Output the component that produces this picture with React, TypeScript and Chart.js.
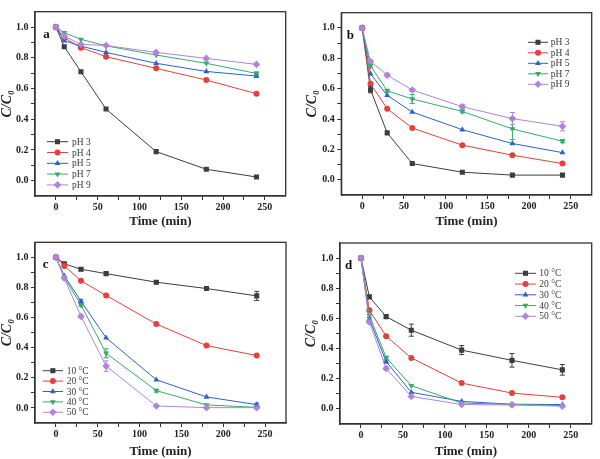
import React, { useEffect, useRef } from 'react';
import { Chart, registerables } from 'chart.js';
import { drawPoint } from 'chart.js/helpers';
Chart.register(...registerables);

// ---- data ----
const times = [0, 10, 30, 60, 120, 180, 240];
const xMajorTicks = [0, 50, 100, 150, 200, 250];
const yMajorTicks = [0, 0.2, 0.4, 0.6, 0.8, 1.0];
const phLabels = ['pH 3', 'pH 4', 'pH 5', 'pH 7', 'pH 9'];
const tempLabels = ['10 °C', '20 °C', '30 °C', '40 °C', '50 °C'];
const panelLetters = ['a', 'b', 'c', 'd'];

// panel a (pH)
const aPH3 = [1.0, 0.872, 0.709, 0.466, 0.189, 0.074, 0.024];
const aPH4 = [1.0, 0.93, 0.866, 0.807, 0.731, 0.655, 0.566];
const aPH5 = [1.0, 0.911, 0.876, 0.835, 0.764, 0.711, 0.681];
const aPH7 = [1.0, 0.963, 0.92, 0.878, 0.818, 0.764, 0.698];
const aPH9 = [1.0, 0.94, 0.887, 0.88, 0.835, 0.796, 0.757];
const aErrPH3 = [0, 0, 0, 0, 0, 0, 0];
const aErrPH4 = [0, 0, 0, 0, 0, 0, 0];
const aErrPH5 = [0, 0, 0, 0, 0, 0, 0.008];
const aErrPH7 = [0, 0, 0, 0, 0, 0, 0.01];
const aErrPH9 = [0, 0, 0, 0, 0, 0, 0];

// panel b (pH)
const bPH3 = [1.0, 0.593, 0.309, 0.107, 0.05, 0.031, 0.031];
const bPH4 = [1.0, 0.632, 0.468, 0.341, 0.228, 0.162, 0.107];
const bPH5 = [1.0, 0.698, 0.556, 0.446, 0.33, 0.239, 0.179];
const bPH7 = [1.0, 0.75, 0.586, 0.532, 0.45, 0.335, 0.254];
const bPH9 = [1.0, 0.779, 0.689, 0.591, 0.481, 0.403, 0.352];
const bErrPH3 = [0, 0.02, 0, 0, 0, 0, 0];
const bErrPH4 = [0, 0.01, 0, 0, 0, 0, 0];
const bErrPH5 = [0, 0, 0, 0, 0, 0, 0];
const bErrPH7 = [0, 0.01, 0.01, 0.03, 0.01, 0.07, 0.01];
const bErrPH9 = [0, 0.01, 0.01, 0.01, 0.015, 0.04, 0.03];

// panel c (temperature)
const c10 = [1.0, 0.958, 0.921, 0.892, 0.835, 0.793, 0.744];
const c20 = [1.0, 0.943, 0.844, 0.747, 0.557, 0.414, 0.348];
const c30 = [1.0, 0.877, 0.709, 0.465, 0.187, 0.073, 0.022];
const c40 = [1.0, 0.866, 0.683, 0.363, 0.115, 0.02, 0.004];
const c50 = [1.0, 0.861, 0.608, 0.278, 0.013, 0.002, 0.002];
const cErr10 = [0, 0, 0.01, 0.01, 0.01, 0.01, 0.03];
const cErr20 = [0, 0, 0, 0, 0, 0, 0];
const cErr30 = [0, 0, 0.01, 0, 0, 0, 0.01];
const cErr40 = [0, 0, 0.01, 0.03, 0.01, 0, 0];
const cErr50 = [0, 0, 0.01, 0.035, 0, 0, 0.01];

// panel d (temperature)
const d10 = [1.0, 0.743, 0.612, 0.522, 0.39, 0.322, 0.259];
const d20 = [1.0, 0.654, 0.482, 0.338, 0.171, 0.105, 0.077];
const d30 = [1.0, 0.596, 0.314, 0.11, 0.05, 0.031, 0.029];
const d40 = [1.0, 0.618, 0.34, 0.154, 0.039, 0.029, 0.022];
const d50 = [1.0, 0.577, 0.268, 0.083, 0.029, 0.026, 0.018];
const dErr10 = [0, 0.01, 0.01, 0.04, 0.03, 0.045, 0.035];
const dErr20 = [0, 0.01, 0, 0, 0, 0, 0];
const dErr30 = [0, 0.01, 0.01, 0, 0, 0, 0];
const dErr40 = [0, 0.01, 0.01, 0, 0, 0, 0];
const dErr50 = [0, 0.01, 0.01, 0, 0, 0, 0];

// ---- styles ----
const SERIF = "'Liberation Serif', 'Times New Roman', serif";
const AXIS = '#333333';
const seriesStyles = [
  { color: '#3d3d3d', pointStyle: 'rect', rotation: 0, radius: 3.6 },
  { color: '#e5403c', pointStyle: 'circle', rotation: 0, radius: 3 },
  { color: '#2d61c6', pointStyle: 'triangle', rotation: 0, radius: 3.4 },
  { color: '#36aa6b', pointStyle: 'triangle', rotation: 180, radius: 3.4 },
  { color: '#b283dd', pointStyle: 'rectRot', rotation: 0, radius: 3.8 },
];

type Series = { label: string; values: number[]; errors: number[] };
type PanelCfg = {
  letter: string;
  series: Series[];
  x: number; y: number; w: number; h: number;
  left: number; top: number; right: number; xH: number;
  yTitlePad: number;
  letterPos: [number, number];
  legend: { x1: number; x2: number; tx: number; y0: number; dy: number };
};

const mk = (labels: string[], vals: number[][], errs: number[][]): Series[] =>
  labels.map((label, i) => ({ label, values: vals[i], errors: errs[i] }));

const panels: PanelCfg[] = [
  {
    letter: panelLetters[0],
    series: mk(phLabels, [aPH3, aPH4, aPH5, aPH7, aPH9], [aErrPH3, aErrPH4, aErrPH5, aErrPH7, aErrPH9]),
    x: 0, y: 0, w: 300, h: 229, left: 35, top: 11.7, right: 14.3, xH: 33, yTitlePad: 0.5,
    letterPos: [43.3, 38.3],
    legend: { x1: 47, x2: 68, tx: 72, y0: 141.7, dy: 10.8 },
  },
  {
    letter: panelLetters[1],
    series: mk(phLabels, [bPH3, bPH4, bPH5, bPH7, bPH9], [bErrPH3, bErrPH4, bErrPH5, bErrPH7, bErrPH9]),
    x: 300, y: 0, w: 300, h: 229, left: 41.3, top: 12.7, right: 8.3, xH: 34, yTitlePad: 5.5,
    letterPos: [46.7, 39.3],
    legend: { x1: 228, x2: 248, tx: 250.7, y0: 42.3, dy: 10.5 },
  },
  {
    letter: panelLetters[2],
    series: mk(tempLabels, [c10, c20, c30, c40, c50], [cErr10, cErr20, cErr30, cErr40, cErr50]),
    x: 0, y: 229, w: 300, h: 230, left: 35, top: 13.3, right: 14, xH: 36, yTitlePad: 0.5,
    letterPos: [42.7, 39],
    legend: { x1: 42.7, x2: 63, tx: 66.7, y0: 141.7, dy: 10.4 },
  },
  {
    letter: panelLetters[3],
    series: mk(tempLabels, [d10, d20, d30, d40, d50], [dErr10, dErr20, dErr30, dErr40, dErr50]),
    x: 300, y: 229, w: 300, h: 230, left: 40, top: 14, right: 8.3, xH: 35, yTitlePad: 4.7,
    letterPos: [45, 40],
    legend: { x1: 215, x2: 236, tx: 239.3, y0: 44.3, dy: 10.75 },
  },
];

function makePlugin(cfg: PanelCfg) {
  return {
    id: 'panelDecor' + cfg.letter,
    afterDatasetsDraw(chart: any) {
      const ctx = chart.ctx;
      const xs = chart.scales.x;
      const ys = chart.scales.y;
      // error bars
      cfg.series.forEach((s, si) => {
        const st = seriesStyles[si];
        ctx.save();
        ctx.strokeStyle = st.color;
        ctx.lineWidth = 1;
        s.values.forEach((v, i) => {
          const e = s.errors[i];
          if (!e) return;
          const px = xs.getPixelForValue(times[i]);
          const y1 = ys.getPixelForValue(v + e);
          const y2 = ys.getPixelForValue(v - e);
          ctx.beginPath();
          ctx.moveTo(px, y1); ctx.lineTo(px, y2);
          ctx.moveTo(px - 2.5, y1); ctx.lineTo(px + 2.5, y1);
          ctx.moveTo(px - 2.5, y2); ctx.lineTo(px + 2.5, y2);
          ctx.stroke();
        });
        ctx.restore();
      });
    },
    afterDraw(chart: any) {
      const ctx = chart.ctx;
      const ca = chart.chartArea;
      ctx.save();
      // frame
      ctx.strokeStyle = AXIS;
      ctx.lineWidth = 1.3;
      ctx.strokeRect(ca.left, ca.top, ca.right - ca.left, ca.bottom - ca.top);
      // panel letter
      ctx.fillStyle = '#111';
      ctx.font = `bold 13px ${SERIF}`;
      ctx.textAlign = 'left';
      ctx.textBaseline = 'alphabetic';
      ctx.fillText(cfg.letter, cfg.letterPos[0], cfg.letterPos[1]);
      // legend
      const lg = cfg.legend;
      ctx.font = `9.5px ${SERIF}`;
      ctx.textBaseline = 'middle';
      cfg.series.forEach((s, i) => {
        const st = seriesStyles[i];
        const yy = lg.y0 + i * lg.dy;
        ctx.strokeStyle = st.color;
        ctx.lineWidth = 1;
        ctx.beginPath();
        ctx.moveTo(lg.x1, yy); ctx.lineTo(lg.x2, yy);
        ctx.stroke();
        ctx.fillStyle = st.color;
        drawPoint(ctx, { pointStyle: st.pointStyle, rotation: st.rotation, radius: st.radius, borderWidth: 0 } as any, (lg.x1 + lg.x2) / 2, yy);
        ctx.fillStyle = '#3a3a3a';
        ctx.fillText(s.label, lg.tx, yy + 0.5);
      });
      ctx.restore();
    },
  };
}

function Panel({ cfg }: { cfg: PanelCfg }) {
  const ref = useRef<HTMLCanvasElement>(null);
  useEffect(() => {
    const datasets = cfg.series.map((s, i) => {
      const st = seriesStyles[i];
      return {
        label: s.label,
        data: s.values.map((v, k) => ({ x: times[k], y: v })),
        borderColor: st.color,
        backgroundColor: st.color,
        borderWidth: 1,
        pointStyle: st.pointStyle,
        pointRotation: st.rotation,
        pointRadius: st.radius,
        pointBorderWidth: 0,
        pointBackgroundColor: st.color,
        tension: 0,
        order: 4 - i,
      };
    });
    const edgeTick = (ctx: any, lo: number, hi: number) => {
      const v = ctx.tick ? ctx.tick.value : 0;
      return Math.abs(v - lo) < 1e-6 || Math.abs(v - hi) < 1e-6 ? 'rgba(0,0,0,0)' : AXIS;
    };
    const chart = new Chart(ref.current as HTMLCanvasElement, {
      type: 'line',
      data: { datasets } as any,
      options: {
        responsive: false,
        animation: false,
        layout: { padding: { left: 0, top: cfg.top, right: cfg.right, bottom: 0 } },
        plugins: { legend: { display: false }, tooltip: { enabled: false } },
        scales: {
          x: {
            type: 'linear',
            min: -25,
            max: 275,
            afterFit: (s: any) => { s.height = cfg.xH; },
            ticks: {
              stepSize: 25,
              autoSkip: false,
              maxRotation: 0,
              padding: 1.5,
              color: '#222',
              font: { family: SERIF, size: 10, weight: 'bold' },
              callback: (v: any) => (xMajorTicks.includes(Number(v)) ? String(v) : ''),
            },
            grid: {
              drawOnChartArea: false,
              tickLength: 4,
              tickColor: (c: any) => edgeTick(c, -25, 275),
            },
            border: { display: true, color: AXIS, width: 1.3 },
            title: {
              display: true,
              text: 'Time (min)',
              color: '#222',
              font: { family: SERIF, size: 13, weight: 'bold', lineHeight: 1.2 },
              padding: 0,
            },
          },
          y: {
            type: 'linear',
            min: -0.1,
            max: 1.1,
            afterFit: (s: any) => { s.width = cfg.left; },
            ticks: {
              stepSize: 0.1,
              autoSkip: false,
              padding: 2.5,
              color: '#222',
              font: { family: SERIF, size: 10, weight: 'bold' },
              callback: (v: any) => {
                const n = Math.round(Number(v) * 10) / 10;
                return yMajorTicks.some((t) => Math.abs(t - n) < 1e-6) ? n.toFixed(1) : '';
              },
            },
            grid: {
              drawOnChartArea: false,
              tickLength: 4,
              tickColor: (c: any) => edgeTick(c, -0.1, 1.1),
            },
            border: { display: true, color: AXIS, width: 1.3 },
            title: {
              display: true,
              text: 'C/C₀',
              color: '#222',
              font: { family: SERIF, size: 14, weight: 'bold', style: 'italic', lineHeight: 1 },
              padding: { top: cfg.yTitlePad, bottom: 0 },
            },
          },
        },
      } as any,
      plugins: [makePlugin(cfg)],
    });
    return () => chart.destroy();
  }, [cfg]);
  return (
    <canvas
      ref={ref}
      width={cfg.w}
      height={cfg.h}
      style={{ position: 'absolute', left: cfg.x, top: cfg.y, width: cfg.w, height: cfg.h }}
    />
  );
}

export default function App() {
  return (
    <div style={{ position: 'absolute', left: 0, top: 0, width: 600, height: 459, background: '#fff', overflow: 'hidden' }}>
      {panels.map((p) => (
        <Panel key={p.letter} cfg={p} />
      ))}
    </div>
  );
}
